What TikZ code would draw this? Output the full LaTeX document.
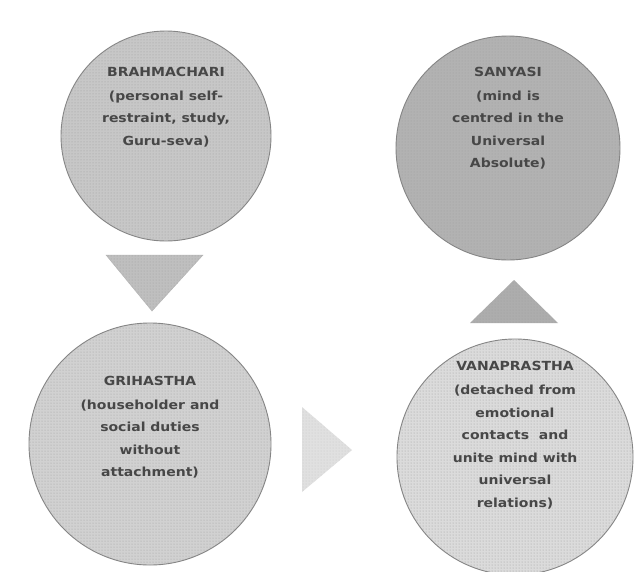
\documentclass[tikz,border=0pt]{standalone}
\usepackage{fontspec}
\setmainfont{DejaVu Sans}[FakeStretch=1.12]
\usetikzlibrary{patterns}
\definecolor{txt}{HTML}{474747}
\definecolor{rim}{HTML}{858585}
\begin{document}
\begin{tikzpicture}[x=1pt,y=-1pt,
  stage/.style={circle, draw=rim, line width=0.9pt, fill=#1, inner sep=0pt},
  dotted halftone/.style={pattern=dots, pattern color=black!38},
  lbl/.style={font=\bfseries\fontsize{12.5}{22.5}\selectfont, text=txt, align=center},
  arrowtri/.style={fill=#1, draw=none}
]
\useasboundingbox (0,0) rectangle (642,571);
\fill[white] (0,0) rectangle (642,571);

% stages
\node[stage=black!22, minimum size=210pt] (brahma) at (166,136) {};
\node[stage=black!30, minimum size=224pt] (sanyasi) at (508,148) {};
\node[stage=black!18, minimum size=242pt] (griha) at (150,444) {};
\node[stage=black!14, minimum size=236pt] (vana) at (515,457) {};

\path[dotted halftone] (brahma.center) circle (104.5);
\path[dotted halftone] (sanyasi.center) circle (111.5);
\path[dotted halftone] (griha.center) circle (120.5);
\path[dotted halftone] (vana.center) circle (117.5);

% arrows (triangles)
\coordinate (d1) at (106,255); \coordinate (d2) at (203,255); \coordinate (d3) at (152,311);
\filldraw[arrowtri=black!25, draw=black!30] (d1) -- (d2) -- (d3) -- cycle;
\path[dotted halftone] (d1) -- (d2) -- (d3) -- cycle;

\coordinate (r1) at (302,407); \coordinate (r2) at (302,492); \coordinate (r3) at (352,450);
\fill[arrowtri=black!12] (r1) -- (r2) -- (r3) -- cycle;
\path[pattern=dots, pattern color=black!22] (r1) -- (r2) -- (r3) -- cycle;

\coordinate (u1) at (470,323); \coordinate (u2) at (558,323); \coordinate (u3) at (514,280);
\fill[arrowtri=black!32] (u1) -- (u2) -- (u3) -- cycle;
\path[dotted halftone] (u1) -- (u2) -- (u3) -- cycle;

% labels
\node[lbl] (tb) at (166,107) {BRAHMACHARI\\[1.5pt](personal self-\\restraint, study,\\Guru-seva)};
\node[lbl] (ts) at (508,118) {SANYASI\\[1.5pt](mind is\\centred in the\\Universal\\Absolute)};
\node[lbl] (tg) at (150,427) {GRIHASTHA\\[1.5pt](householder and\\social duties\\without\\attachment)};
\node[lbl] (tv) at (515,435) {VANAPRASTHA\\[1.5pt](detached from\\emotional\\contacts\ \ and\\unite mind with\\universal\\relations)};
\end{tikzpicture}
\end{document}
